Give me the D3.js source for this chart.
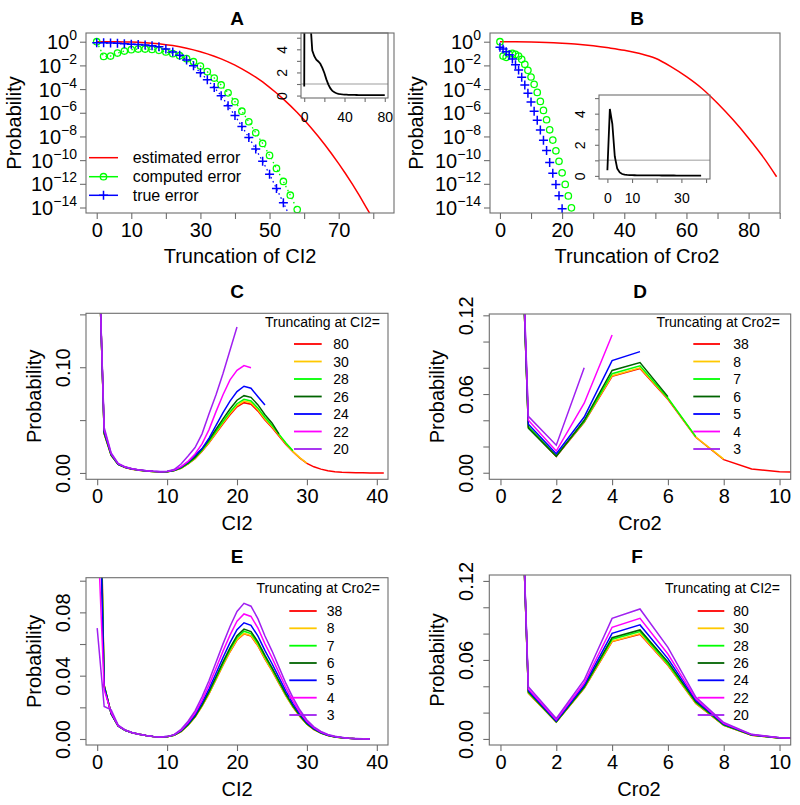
<!DOCTYPE html>
<html><head><meta charset="utf-8">
<script src="https://cdn.jsdelivr.net/npm/d3@7"></script>
<style>body{margin:0;background:#fff}svg text{font-family:"Liberation Sans",Arial,Helvetica,sans-serif}</style>
</head><body><svg id="chart" width="800" height="805"></svg>
<script>
// ================= DATA =================
// Panel A (log10 of probability)
const aEstX = [0,2,4,6,8,10,12,14,16,18,20,22,24,26,28,30,32,34,36,38,40,42,44,46,48,50,52,54,56,58,60,62,64,66,68,70,72,74,76,78,80];
const aEstLog10 = [0,-0.0003,-0.002,-0.007,-0.016,-0.031,-0.054,-0.085,-0.127,-0.181,-0.25,-0.33,-0.43,-0.55,-0.69,-0.85,-1.03,-1.23,-1.45,-1.70,-1.98,-2.29,-2.63,-3.0,-3.40,-3.85,-4.33,-4.85,-5.40,-5.98,-6.60,-7.26,-7.96,-8.70,-9.48,-10.30,-11.15,-12.05,-13.0,-14.0,-15.0];
const aCompX = [0,2,4,6,8,10,12,14,16,18,20,22,24,26,28,30,32,34,36,38,40,42,44,46,48,50,52,54,56,58];
const aCompLog10 = [0,-1.24,-1.21,-0.96,-0.79,-0.67,-0.62,-0.62,-0.65,-0.73,-0.87,-1.01,-1.18,-1.43,-1.69,-2.05,-2.53,-3.07,-3.65,-4.32,-5.07,-5.87,-6.76,-7.69,-8.59,-9.6,-10.7,-11.8,-12.96,-14.17];
const aTrueX = [0,2,4,6,8,10,12,14,16,18,20,22,24,26,28,30,32,34,36,38,40,42,44,46,48,50,52,54,56];
const aTrueLog10 = [-0.08,-0.08,-0.1,-0.13,-0.18,-0.21,-0.24,-0.28,-0.34,-0.42,-0.62,-0.87,-1.15,-1.55,-2.03,-2.62,-3.22,-3.86,-4.57,-5.4,-6.24,-7.16,-8.08,-9.07,-10.1,-11.2,-12.4,-13.6,-14.85];
const aInsetX = [0,2,4,6,8,10,12,14,16,18,20,22,24,26,28,30,32,34,36,38,40,42,44,46,48,50,52,54,56,58,60,62,64,66,68,70,72,74,76,78,80];
const aInsetY = [0.78,60,12,6.5,3.9,3.4,3.1,2.95,2.75,2.4,1.95,1.4,0.95,0.62,0.4,0.28,0.2,0.15,0.12,0.1,0.085,0.075,0.068,0.062,0.057,0.053,0.05,0.047,0.045,0.043,0.041,0.039,0.037,0.036,0.035,0.034,0.033,0.032,0.031,0.03,0.03];

// Panel B (log10 of probability)
const bEstX = [0,5,10,15,20,25,30,35,40,45,50,55,60,65,70,75,80,85,89];
const bEstLog10 = [0,-0.003,-0.02,-0.06,-0.13,-0.22,-0.35,-0.52,-0.72,-1.0,-1.4,-2.1,-2.95,-3.95,-5.2,-6.6,-8.15,-9.85,-11.4];
const bCompX = [0,1,2,3,4,5,6,7,8,9,10,11,12,13,14,15,16,17,18,19,20,21,22,23];
const bCompLog10 = [0,-1.21,-1.32,-1.04,-0.98,-1.07,-1.21,-1.49,-1.91,-2.42,-2.98,-3.6,-4.28,-5.04,-5.8,-6.59,-7.44,-8.31,-9.21,-10.1,-11.07,-12.05,-13.02,-14.03];
const bTrueX = [0,1,2,3,4,5,6,7,8,9,10,11,12,13,14,15,16,17,18,19,20];
const bTrueLog10 = [-0.47,-0.62,-0.85,-1.1,-1.45,-1.94,-2.39,-3.01,-3.66,-4.36,-5.1,-5.88,-6.64,-7.46,-8.33,-9.18,-10.2,-11.1,-12.05,-13.0,-14.1];
const bInsetY = [0.36,4.3,3.35,1.25,0.47,0.22,0.12,0.08,0.06,0.05,0.045,0.04,0.038,0.036,0.034,0.033,0.032,0.031,0.03,0.029,0.028,0.027,0.026,0.026,0.025,0.025,0.024,0.024,0.023,0.023,0.022,0.022,0.022,0.021,0.021,0.021,0.02,0.02,0.02]; // x = 0,1,2,...

// Panel C: marginal of CI2 (x = 0,1,2,...) for truncations at CI2 = 80,30,28,26,24,22,20
const cLabels = ["80","30","28","26","24","22","20"];
const cRed = [0.26,0.037,0.0165,0.008,0.0052,0.0036,0.0026,0.0019,0.0014,0.0011,0.0012,0.0022,0.0045,0.0085,0.0135,0.0205,0.0285,0.0375,0.0465,0.055,0.0625,0.0665,0.065,0.0585,0.05,0.043,0.035,0.027,0.02,0.014,0.009,0.0058,0.0036,0.0021,0.0012,0.0007,0.0004,0.0002,0.0001,0.00005,0.00002,0.00001];
const cGold = [0.26,0.0372,0.0166,0.008,0.0052,0.0036,0.0026,0.0019,0.0014,0.0011,0.0012,0.0022,0.0046,0.0087,0.0138,0.0209,0.0291,0.0383,0.0475,0.0562,0.0638,0.068,0.0664,0.0598,0.0511,0.0439,0.0358,0.0276,0.0204,0.0143,0.0092];
const cLime = [0.26,0.0375,0.0168,0.0081,0.0053,0.0037,0.0026,0.0019,0.0014,0.0011,0.0012,0.0023,0.0047,0.0089,0.0142,0.0215,0.0299,0.0393,0.0487,0.0576,0.0655,0.0697,0.0681,0.0613,0.0524,0.0451,0.0367,0.0283,0.021];
const cDkgreen = [0.26,0.038,0.017,0.0082,0.0053,0.0037,0.0027,0.0019,0.0014,0.0011,0.0012,0.0023,0.005,0.0094,0.0149,0.0226,0.0314,0.0413,0.0512,0.0605,0.0688,0.0731,0.0715,0.0644,0.055,0.0473,0.037];
const cBlue = [0.26,0.039,0.0175,0.0084,0.0054,0.0038,0.0027,0.002,0.0015,0.0012,0.0013,0.0025,0.0055,0.0105,0.0166,0.023,0.033,0.045,0.057,0.068,0.077,0.082,0.0801,0.0721,0.0643];
const cMagenta = [0.26,0.041,0.0182,0.0087,0.0056,0.0039,0.0028,0.002,0.0015,0.0012,0.0014,0.0028,0.006,0.011,0.018,0.0275,0.041,0.058,0.074,0.088,0.097,0.1016,0.0995];
const cPurple = [0.26,0.043,0.019,0.009,0.0058,0.004,0.0029,0.0021,0.0016,0.0013,0.0016,0.0033,0.0085,0.016,0.024,0.037,0.056,0.074,0.094,0.116,0.138];

// Panel D: marginal of Cro2 for truncations at Cro2 = 38,8,7,6,5,4,3
const dLabels = ["38","8","7","6","5","4","3"];
const dRed = [0.65,0.0345,0.0125,0.0385,0.0735,0.0795,0.056,0.027,0.010,0.0028,0.0008,0.0002];
const dGold = [0.65,0.035,0.0127,0.039,0.074,0.080,0.0565,0.0272,0.0104];
const dLime = [0.65,0.0352,0.013,0.039,0.0755,0.0815,0.057,0.0275];
const dDkgreen = [0.65,0.034,0.0125,0.040,0.078,0.084,0.058];
const dBlue = [0.65,0.037,0.0145,0.0425,0.0855,0.0923];
const dMagenta = [0.65,0.040,0.0165,0.053,0.105];
const dPurple = [0.65,0.043,0.021,0.080];

// Panel E: marginal of CI2 for truncations at Cro2 = 38,8,7,6,5,4,3
const eLabels = ["38","8","7","6","5","4","3"];
const eRed = [0.28,0.034,0.016,0.0082,0.0055,0.004,0.003,0.0022,0.0016,0.0013,0.0014,0.0024,0.0047,0.0087,0.0138,0.0207,0.0287,0.0376,0.0466,0.0551,0.0625,0.0664,0.065,0.0588,0.0505,0.0432,0.0352,0.0272,0.0202,0.0142,0.0093,0.006,0.0037,0.0022,0.0013,0.0008,0.0004,0.0002,0.0001,0.00005];
const eGold = [0.27,0.034,0.016,0.0082,0.0055,0.004,0.003,0.0022,0.0016,0.0013,0.0014,0.0024,0.0047,0.0087,0.0139,0.0208,0.0288,0.0378,0.0468,0.0554,0.0628,0.0667,0.0653,0.0591,0.0508,0.0434,0.0354,0.0273,0.0203,0.0143,0.0093,0.006,0.0037,0.0022,0.0013,0.0008,0.0004,0.0002,0.0001,0.00005];
const eLime = [0.26,0.0338,0.016,0.0082,0.0055,0.004,0.003,0.0022,0.0016,0.0013,0.0014,0.0024,0.0048,0.0089,0.0141,0.0212,0.0294,0.0385,0.0478,0.0565,0.0641,0.0681,0.0666,0.0603,0.0518,0.0443,0.0361,0.0279,0.0207,0.0146,0.0095,0.0062,0.0038,0.0023,0.0013,0.0008,0.0004,0.0002,0.0001,0.00005];
const eDkgreen = [0.25,0.0335,0.016,0.0082,0.0055,0.004,0.003,0.0022,0.0016,0.0013,0.0014,0.0025,0.0049,0.0091,0.0144,0.0216,0.03,0.0393,0.0487,0.0576,0.0653,0.0694,0.0679,0.0614,0.0528,0.0451,0.0368,0.0284,0.0211,0.0148,0.0097,0.0063,0.0039,0.0023,0.0014,0.0008,0.0004,0.0002,0.0001,0.00005];
const eBlue = [0.22,0.033,0.0162,0.0083,0.0055,0.004,0.003,0.0022,0.0016,0.0013,0.0015,0.0025,0.0052,0.0096,0.0152,0.0229,0.0317,0.0415,0.0515,0.0609,0.0691,0.0734,0.0718,0.065,0.0558,0.0477,0.0389,0.0301,0.0223,0.0157,0.0103,0.0066,0.0041,0.0024,0.0014,0.0009,0.0004,0.0002,0.0001,0.00006];
const eMagenta = [0.14,0.031,0.0168,0.0084,0.0056,0.004,0.003,0.0022,0.0016,0.0013,0.0015,0.0026,0.0056,0.0104,0.0164,0.0246,0.0342,0.0447,0.0555,0.0656,0.0744,0.079,0.0774,0.07,0.0601,0.0514,0.0419,0.0324,0.024,0.0169,0.0111,0.0071,0.0044,0.0026,0.0015,0.001,0.0005,0.0002,0.0001,0.00006];
const ePurple = [0.07,0.0205,0.0185,0.0088,0.0057,0.0041,0.003,0.0022,0.0016,0.0013,0.0015,0.0027,0.0061,0.0112,0.0178,0.0267,0.037,0.0485,0.0601,0.0711,0.0806,0.0857,0.0839,0.0759,0.0651,0.0557,0.0454,0.0351,0.0261,0.0183,0.012,0.0077,0.0048,0.0028,0.0017,0.001,0.0005,0.0003,0.0001,0.00006];

// Panel F: marginal of Cro2 for truncations at CI2 = 80,30,28,26,24,22,20
const fLabels = ["80","30","28","26","24","22","20"];
const fRed = [0.68,0.0347,0.0128,0.0385,0.0739,0.0795,0.056,0.027,0.0104,0.0028,0.0008,0.0002];
const fGold = [0.68,0.035,0.0129,0.0388,0.0742,0.08,0.0563,0.0272,0.0105,0.0028,0.0008,0.0002];
const fLime = [0.68,0.0353,0.013,0.039,0.0757,0.0815,0.057,0.0276,0.0106,0.0029,0.0008,0.0002];
const fDkgreen = [0.68,0.0358,0.0132,0.0396,0.0769,0.0828,0.0585,0.0283,0.0109,0.003,0.0008,0.0002];
const fBlue = [0.68,0.0368,0.0136,0.0408,0.0802,0.0866,0.061,0.0293,0.0113,0.0031,0.0009,0.0002];
const fMagenta = [0.68,0.038,0.0145,0.0425,0.0848,0.0916,0.0645,0.0305,0.0118,0.0033,0.0009,0.0002];
const fPurple = [0.68,0.0397,0.0155,0.0448,0.0916,0.0987,0.0695,0.0318,0.0125,0.0035,0.001,0.0002];

const lineColors = ["#FF0000","#FFC800","#00FF00","#006400","#0000FF","#FF00FF","#A020F0"];

// ================= DRAWING =================
const svg = d3.select("#chart");
const FRAME = "#6e6e6e";
const defs = svg.append("defs");
let nClip = 0;

function clipGroup(L,R,T,B){
  const id = "clip" + (nClip++);
  defs.append("clipPath").attr("id", id).append("rect").attr("x",L).attr("y",T).attr("width",R-L).attr("height",B-T);
  return svg.append("g").attr("clip-path", `url(#${id})`);
}
function frame(L,R,T,B){
  svg.append("rect").attr("x",L).attr("y",T).attr("width",R-L).attr("height",B-T)
    .attr("fill","none").attr("stroke",FRAME).attr("stroke-width",1.1);
}
function styleAxis(g, fs){
  g.select(".domain").remove();
  g.selectAll(".tick line").attr("stroke",FRAME).attr("stroke-width",1.1);
  g.selectAll(".tick text").attr("fill","#000").attr("font-size",fs)
    .attr("font-family",'"Liberation Sans",Arial,Helvetica,sans-serif');
}
function xAxis(x, B, ticks, labels, fmt, ts, pad, fs){
  const g = svg.append("g").attr("transform",`translate(0,${B})`)
    .call(d3.axisBottom(x).tickValues(ticks).tickSize(ts).tickPadding(pad)
      .tickFormat(d => labels.includes(d) ? fmt(d) : ""));
  styleAxis(g, fs);
  return g;
}
function yAxisRot(y, L, ticks, labels, fmt, ts, off, fs){
  const g = svg.append("g").attr("transform",`translate(${L},0)`)
    .call(d3.axisLeft(y).tickValues(ticks).tickSize(ts)
      .tickFormat(d => labels.includes(d) ? fmt(d) : ""));
  styleAxis(g, fs);
  g.selectAll(".tick text").attr("x",0).attr("y",-off).attr("dy",null)
    .attr("transform","rotate(-90)").attr("text-anchor","middle");
  return g;
}
function yAxisPow(y, L, ticks, ts){
  const g = svg.append("g").attr("transform",`translate(${L},0)`)
    .call(d3.axisLeft(y).tickValues(ticks).tickSize(ts).tickPadding(3).tickFormat(""));
  styleAxis(g, "20px");
  g.selectAll(".tick text").each(function(d){
    const t = d3.select(this);
    const e = Math.round(Math.log10(d));
    t.attr("dy","7").attr("text-anchor","end");
    t.append("tspan").text("10");
    t.append("tspan").attr("dy","-9").attr("font-size","14px").text(e === 0 ? "0" : "\u2212" + (-e));
  });
}
function text(x, y, s, fs, opts={}){
  const t = svg.append("text").attr("x",x).attr("y",y).text(s).attr("font-size",fs)
    .attr("fill","#000").attr("text-anchor",opts.anchor||"middle");
  if (opts.bold) t.attr("font-weight","bold");
  if (opts.rot) t.attr("transform",`rotate(-90,${x},${y})`);
  return t;
}

// ---------- Panel A ----------
{
  const L=86,R=394,T=33,B=213;
  const x = d3.scaleLinear().domain([-3.1,86]).range([L,R]);
  const y = d3.scaleLog().domain([Math.pow(10,-14.464),Math.pow(10,0.735)]).range([B,T]);
  const g = clipGroup(L,R,T,B);
  const ln = d3.line().x(d=>x(d[0])).y(d=>y(Math.pow(10,d[1])));
  g.append("path").attr("d", ln(aEstX.map((v,i)=>[v,aEstLog10[i]]))).attr("fill","none").attr("stroke","#FF0000").attr("stroke-width",1.5);
  const comp = aCompX.map((v,i)=>[v,aCompLog10[i]]);
  const tru = aTrueX.map((v,i)=>[v,aTrueLog10[i]]);
  g.append("path").attr("d", ln(comp)).attr("fill","none").attr("stroke","#00FF00").attr("stroke-width",1.3).attr("stroke-dasharray","1.5,3");
  g.append("path").attr("d", ln(tru)).attr("fill","none").attr("stroke","#0000FF").attr("stroke-width",1.3).attr("stroke-dasharray","1.5,3");
  g.selectAll("circle.comp").data(comp).enter().append("circle")
    .attr("cx",d=>x(d[0])).attr("cy",d=>y(Math.pow(10,d[1]))).attr("r",3.2)
    .attr("fill","none").attr("stroke","#00FF00").attr("stroke-width",1.3);
  g.selectAll("path.plus").data(tru).enter().append("path")
    .attr("d",d=>{const cx=x(d[0]),cy=y(Math.pow(10,d[1]));return `M${cx-4.5},${cy}H${cx+4.5}M${cx},${cy-4.5}V${cy+4.5}`;})
    .attr("stroke","#0000FF").attr("stroke-width",1.5).attr("fill","none");
  frame(L,R,T,B);
  xAxis(x, B, [0,10,20,30,40,50,60,70,80], [0,10,30,50,70], d=>String(d), 6, 4, "20px");
  yAxisPow(y, L, [1,1e-2,1e-4,1e-6,1e-8,1e-10,1e-12,1e-14], 6);
  text(237, 25, "A", "19px", {bold:true});
  text(240, 263, "Truncation of CI2", "20px");
  text(21, 123, "Probability", "20px", {rot:true});
  // legend
  const rows=[157.7,176.7,195.3];
  const names=["estimated error","computed error","true error"];
  const cols=["#FF0000","#00FF00","#0000FF"];
  rows.forEach((ry,i)=>{
    svg.append("line").attr("x1",89).attr("x2",118).attr("y1",ry).attr("y2",ry).attr("stroke",cols[i]).attr("stroke-width",1.5);
    if(i===1) svg.append("circle").attr("cx",103.5).attr("cy",ry).attr("r",3.2).attr("fill","none").attr("stroke",cols[i]).attr("stroke-width",1.3);
    if(i===2) svg.append("path").attr("d",`M99,${ry}H108M103.5,${ry-4.5}V${ry+4.5}`).attr("stroke",cols[i]).attr("stroke-width",1.5);
    text(132.7, ry+5.5, names[i], "16px", {anchor:"start"});
  });
  // inset
  const iL=301,iR=388,iT=33,iB=98;
  const ix = d3.scaleLinear().domain([-3.2,83.2]).range([iL,iR]);
  const iy = d3.scaleLinear().domain([-0.21,5.41]).range([iB,iT]);
  const ig = clipGroup(iL,iR,iT,iB);
  ig.append("line").attr("x1",iL).attr("x2",iR).attr("y1",iy(1)).attr("y2",iy(1)).attr("stroke","#bebebe").attr("stroke-width",1.5);
  ig.append("path").attr("d", d3.line().x((d,i)=>ix(aInsetX[i])).y(d=>iy(d))(aInsetY))
    .attr("fill","none").attr("stroke","#000").attr("stroke-width",1.8);
  frame(iL,iR,iT,iB);
  xAxis(ix, iB, [0,20,40,60,80], [0,40,80], d=>String(d), 4, 10, "14px");
  yAxisRot(iy, iL, [0,1,2,3,4,5], [0,2,4], d=>String(d), 4, 14, "14px");
}

// ---------- Panel B ----------
{
  const L=490,R=780,T=33,B=213;
  const x = d3.scaleLinear().domain([-3.2,90.1]).range([L,R]);
  const y = d3.scaleLog().domain([Math.pow(10,-14.464),Math.pow(10,0.735)]).range([B,T]);
  const g = clipGroup(L,R,T,B);
  const ln = d3.line().x(d=>x(d[0])).y(d=>y(Math.pow(10,d[1])));
  g.append("path").attr("d", ln.curve(d3.curveMonotoneX)(bEstX.map((v,i)=>[v,bEstLog10[i]]))).attr("fill","none").attr("stroke","#FF0000").attr("stroke-width",1.5);
  ln.curve(d3.curveLinear);
  const comp = bCompX.map((v,i)=>[v,bCompLog10[i]]);
  const tru = bTrueX.map((v,i)=>[v,bTrueLog10[i]]);
  g.selectAll("circle.comp").data(comp).enter().append("circle")
    .attr("cx",d=>x(d[0])).attr("cy",d=>y(Math.pow(10,d[1]))).attr("r",3.2)
    .attr("fill","none").attr("stroke","#00FF00").attr("stroke-width",1.3);
  g.selectAll("path.plus").data(tru).enter().append("path")
    .attr("d",d=>{const cx=x(d[0]),cy=y(Math.pow(10,d[1]));return `M${cx-4.5},${cy}H${cx+4.5}M${cx},${cy-4.5}V${cy+4.5}`;})
    .attr("stroke","#0000FF").attr("stroke-width",1.5).attr("fill","none");
  frame(L,R,T,B);
  xAxis(x, B, [0,10,20,30,40,50,60,70,80,90], [0,20,40,60,80], d=>String(d), 6, 4, "20px");
  yAxisPow(y, L, [1,1e-2,1e-4,1e-6,1e-8,1e-10,1e-12,1e-14], 6);
  text(637, 25, "B", "19px", {bold:true});
  text(637, 263, "Truncation of Cro2", "20px");
  text(422.5, 123, "Probability", "20px", {rot:true});
  // inset
  const iL=599,iR=710,iT=95,iB=179;
  const ix = d3.scaleLinear().domain([-3.4,41.6]).range([iL,iR]);
  const iy = d3.scaleLinear().domain([-0.2,5.2]).range([iB,iT]);
  const ig = clipGroup(iL,iR,iT,iB);
  ig.append("line").attr("x1",iL).attr("x2",iR).attr("y1",iy(1)).attr("y2",iy(1)).attr("stroke","#bebebe").attr("stroke-width",1.5);
  ig.append("path").attr("d", d3.line().x((d,i)=>ix(i)).y(d=>iy(d))(bInsetY))
    .attr("fill","none").attr("stroke","#000").attr("stroke-width",1.8);
  frame(iL,iR,iT,iB);
  xAxis(ix, iB, [0,10,20,30,40], [0,10,30], d=>String(d), 4, 10, "14px");
  yAxisRot(iy, iL, [0,1,2,3,4,5], [0,2,4], d=>String(d), 4, 14, "14px");
}

// ---------- Panels C-F ----------
function distPanel(o){
  const {L,R,T,B} = o;
  const x = d3.scaleLinear().domain(o.xd).range([L,R]);
  const y = d3.scaleLinear().domain(o.yd).range([B,T]);
  const g = clipGroup(L,R,T,B);
  const ln = d3.line().x((d,i)=>x(i)).y(d=>y(d));
  o.series.forEach((s,k)=>{
    g.append("path").attr("d", ln(s)).attr("fill","none").attr("stroke",lineColors[k]).attr("stroke-width",1.5);
  });
  frame(L,R,T,B);
  xAxis(x, B, o.xt, o.xt, d=>String(d), 6, 4, "20px");
  yAxisRot(y, L, o.yt, o.yl, d3.format(".2f"), 6, 16, "20px");
  text(o.titleX, o.titleY, o.title, "19px", {bold:true});
  text(o.xlabX, B+51, o.xlab, "20px");
  text(o.ylabX, (T+B)/2, "Probability", "20px", {rot:true});
  // legend
  text(o.legR, o.legTitleY, o.legTitle, "14px", {anchor:"end"});
  o.legRows.forEach((ry,k)=>{
    svg.append("line").attr("x1",o.legL1).attr("x2",o.legL2).attr("y1",ry).attr("y2",ry).attr("stroke",lineColors[k]).attr("stroke-width",1.8);
    text(o.legTx, ry+5, o.labels[k], "14px", {anchor:"start"});
  });
}

distPanel({L:86,R:388,T:313.3,B:479.3, xd:[-1.6,41.6], yd:[-0.006,0.151],
  xt:[0,10,20,30,40], yt:[0,0.05,0.10,0.15], yl:[0,0.10],
  series:[cRed,cGold,cLime,cDkgreen,cBlue,cMagenta,cPurple], labels:cLabels,
  title:"C", titleX:237, titleY:298.3, xlab:"CI2", xlabX:237, ylabX:41,
  legTitle:"Truncating at CI2=", legR:380, legTitleY:326.7,
  legRows:[344,361.5,379,396.5,414,431.5,449], legL1:294, legL2:321.7, legTx:333.3});

distPanel({L:489.3,R:790.7,T:314,B:479.3, xd:[-0.4,10.4], yd:[-0.005,0.121],
  xt:[0,2,4,6,8,10], yt:[0,0.02,0.04,0.06,0.08,0.10,0.12], yl:[0,0.06,0.12],
  series:[dRed,dGold,dLime,dDkgreen,dBlue,dMagenta,dPurple], labels:dLabels,
  title:"D", titleX:640, titleY:298.3, xlab:"Cro2", xlabX:640, ylabX:444.3,
  legTitle:"Truncating at Cro2=", legR:780, legTitleY:326.7,
  legRows:[344,361.5,379,396.5,414,431.5,449], legL1:693.3, legL2:720, legTx:733.3});

distPanel({L:86,R:388,T:577.7,B:745, xd:[-1.6,41.6], yd:[-0.0038,0.1019],
  xt:[0,10,20,30,40], yt:[0,0.02,0.04,0.06,0.08,0.10], yl:[0,0.04,0.08],
  series:[eRed,eGold,eLime,eDkgreen,eBlue,eMagenta,ePurple], labels:eLabels,
  title:"E", titleX:237, titleY:563.3, xlab:"CI2", xlabX:237, ylabX:41,
  legTitle:"Truncating at Cro2=", legR:380, legTitleY:592.7,
  legRows:[611,628.3,645.7,663,680.3,697.7,715], legL1:289.3, legL2:316.7, legTx:326.7});

distPanel({L:489.3,R:790.7,T:575,B:745, xd:[-0.4,10.4], yd:[-0.0046,0.1245],
  xt:[0,2,4,6,8,10], yt:[0,0.02,0.04,0.06,0.08,0.10,0.12], yl:[0,0.06,0.12],
  series:[fRed,fGold,fLime,fDkgreen,fBlue,fMagenta,fPurple], labels:fLabels,
  title:"F", titleX:637, titleY:563.3, xlab:"Cro2", xlabX:639, ylabX:444.3,
  legTitle:"Truncating at CI2=", legR:780, legTitleY:593.3,
  legRows:[611,628.3,645.7,663,680.3,697.7,715], legL1:697.7, legL2:724.3, legTx:733.3});
</script>
</body></html>
